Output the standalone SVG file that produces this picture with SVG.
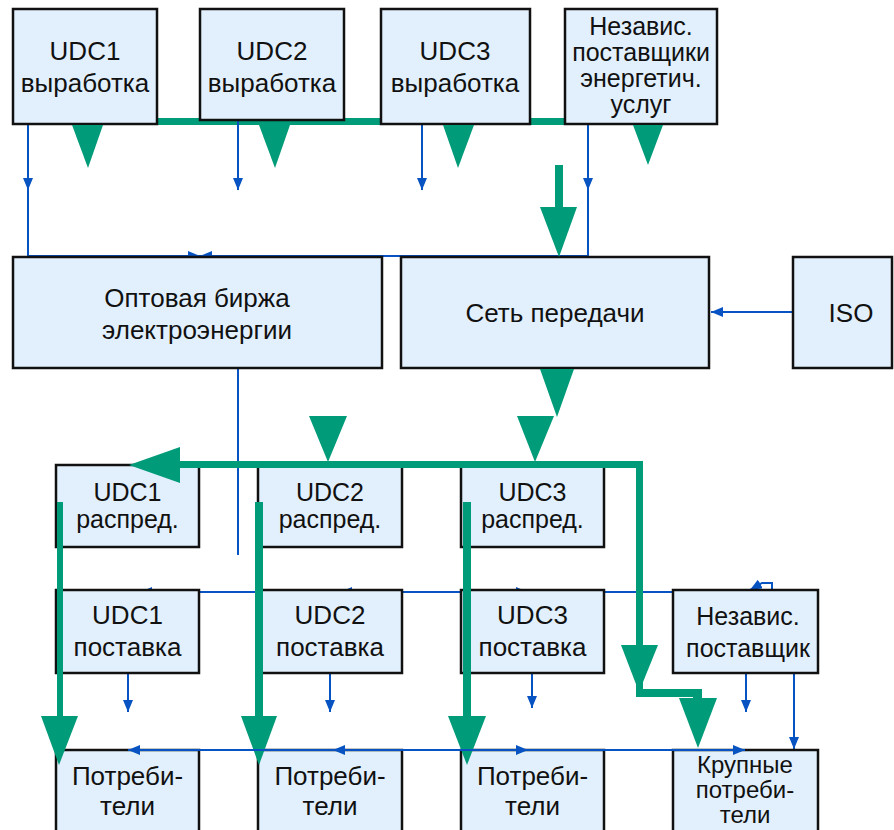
<svg xmlns="http://www.w3.org/2000/svg" width="894" height="830" viewBox="0 0 894 830">
  <defs>
    <marker id="blueHead" viewBox="0 0 12 10" refX="12" refY="5" markerWidth="12" markerHeight="10" markerUnits="userSpaceOnUse" orient="auto">
      <path d="M0,0 L12,5 L0,10 z" fill="#0753c2"/>
    </marker>
    <style>
      .box { fill: #e2f0fd; stroke: #111; stroke-width: 2.5; }
      .lbl { font-family: "Liberation Sans", Arial, sans-serif; font-size: 26px; fill: #111; text-anchor: middle; }
      .tight { font-size: 25px; }
      .tighter { font-size: 24px; }
      .thin { fill: none; stroke: #0753c2; stroke-width: 2; }
      .arr { marker-end: url(#blueHead); }
      .green { fill: #009b78; stroke: none; }
    </style>
  </defs>
  <rect width="894" height="830" fill="#fff"/>

  <!-- connectors drawn beneath the boxes -->
  <g id="connectors-under">
    <rect class="green" x="13" y="118" width="704" height="7"/>
    <path class="thin arr" d="M28,124 V190"/>
    <path class="thin arr" d="M28,188 V256 H200"/>
    <path class="thin arr" d="M238,120 V190"/>
    <path class="thin arr" d="M422,124 V190"/>
    <path class="thin arr" d="M588,124 V190"/>
    <path class="thin arr" d="M588,188 V256 H200"/>
    <path class="thin" d="M238,368 V555"/>
    <path class="thin arr" d="M793,312 H711"/>
    <path class="thin arr" d="M400,592 H340"/>
    <path class="thin arr" d="M340,592 H140"/>
    <path class="thin arr" d="M400,592 H528"/>
    <path class="thin arr" d="M528,592 H772 V583 H762 L750,590"/>
    <path class="thin arr" d="M128,673 V712"/>
    <path class="thin arr" d="M330,673 V712"/>
    <path class="thin arr" d="M532,673 V708"/>
    <path class="thin arr" d="M746,673 V712"/>
    <path class="thin arr" d="M794,673 V749"/>
  </g>

  <!-- generation row -->
  <g id="gen1">
    <rect class="box" x="13" y="9" width="144" height="115"/>
    <text class="lbl" x="85" y="60">UDC1</text>
    <text class="lbl" x="85" y="92">выработка</text>
  </g>
  <g id="gen2">
    <rect class="box" x="200" y="9" width="144" height="111"/>
    <text class="lbl" x="272" y="60">UDC2</text>
    <text class="lbl" x="272" y="92">выработка</text>
  </g>
  <g id="gen3">
    <rect class="box" x="381" y="9" width="149" height="115"/>
    <text class="lbl" x="455" y="60">UDC3</text>
    <text class="lbl" x="455" y="92">выработка</text>
  </g>
  <g id="ind-services">
    <rect class="box" x="565" y="9" width="152" height="115"/>
    <text class="lbl tight" x="641" y="35">Независ.</text>
    <text class="lbl tight" x="641" y="61">поставщики</text>
    <text class="lbl tight" x="641" y="87">энергетич.</text>
    <text class="lbl tight" x="641" y="113">услуг</text>
  </g>

  <!-- market / grid row -->
  <g id="exchange">
    <rect class="box" x="13" y="257" width="369" height="111"/>
    <text class="lbl" x="197" y="307">Оптовая биржа</text>
    <text class="lbl" x="197" y="339">электроэнергии</text>
  </g>
  <g id="grid">
    <rect class="box" x="401" y="257" width="308" height="111"/>
    <text class="lbl" x="555" y="322">Сеть передачи</text>
  </g>
  <g id="iso">
    <rect class="box" x="793" y="257" width="99" height="111"/>
    <text class="lbl" x="851" y="322">ISO</text>
  </g>

  <!-- distribution row -->
  <g id="dist1">
    <rect class="box" x="56" y="465" width="143" height="82"/>
    <text class="lbl tight" x="127.5" y="501">UDC1</text>
    <text class="lbl tight" x="127.5" y="528">распред.</text>
  </g>
  <g id="dist2">
    <rect class="box" x="258" y="465" width="144" height="82"/>
    <text class="lbl tight" x="330" y="501">UDC2</text>
    <text class="lbl tight" x="330" y="528">распред.</text>
  </g>
  <g id="dist3">
    <rect class="box" x="461" y="465" width="143" height="82"/>
    <text class="lbl tight" x="532.5" y="501">UDC3</text>
    <text class="lbl tight" x="532.5" y="528">распред.</text>
  </g>

  <!-- supply row -->
  <g id="supply1">
    <rect class="box" x="56" y="590" width="143" height="83"/>
    <text class="lbl" x="127.5" y="624">UDC1</text>
    <text class="lbl" x="127.5" y="656">поставка</text>
  </g>
  <g id="supply2">
    <rect class="box" x="258" y="590" width="144" height="83"/>
    <text class="lbl" x="330" y="624">UDC2</text>
    <text class="lbl" x="330" y="656">поставка</text>
  </g>
  <g id="supply3">
    <rect class="box" x="461" y="590" width="143" height="83"/>
    <text class="lbl" x="532.5" y="624">UDC3</text>
    <text class="lbl" x="532.5" y="656">поставка</text>
  </g>
  <g id="ind-supplier">
    <rect class="box" x="673" y="590" width="145" height="83"/>
    <text class="lbl tight" x="748" y="625">Независ.</text>
    <text class="lbl tight" x="748" y="657">поставщик</text>
  </g>

  <!-- consumer row -->
  <g id="cons1">
    <rect class="box" x="56" y="750" width="143" height="90"/>
    <text class="lbl" x="127.5" y="785">Потреби-</text>
    <text class="lbl" x="127.5" y="815">тели</text>
  </g>
  <g id="cons2">
    <rect class="box" x="258" y="750" width="144" height="90"/>
    <text class="lbl" x="330" y="785">Потреби-</text>
    <text class="lbl" x="330" y="815">тели</text>
  </g>
  <g id="cons3">
    <rect class="box" x="461" y="750" width="143" height="90"/>
    <text class="lbl" x="532.5" y="785">Потреби-</text>
    <text class="lbl" x="532.5" y="815">тели</text>
  </g>
  <g id="large-cons">
    <rect class="box" x="673" y="750" width="145" height="90"/>
    <text class="lbl tighter" x="745" y="773">Крупные</text>
    <text class="lbl tighter" x="745" y="798">потреби-</text>
    <text class="lbl tighter" x="745" y="823">тели</text>
  </g>

  <!-- connectors drawn over the boxes -->
  <g id="connectors-over">
    <!-- power flow from generation -->
    <polygon class="green" points="72,125 103,125 88,168"/>
    <polygon class="green" points="259,125 290,125 275,168"/>
    <polygon class="green" points="443,125 474,125 458,168"/>
    <polygon class="green" points="633,125 663,125 648,165"/>
    <rect class="green" x="555" y="165" width="8" height="43"/>
    <polygon class="green" points="540,207 577,207 559,257"/>
    <!-- grid to distribution -->
    <polygon class="green" points="540,369 574,369 557,417"/>
    <polygon class="green" points="517,416 554,416 535,462"/>
    <polygon class="green" points="309,416 347,416 328,462"/>
    <rect class="green" x="178" y="461" width="465" height="7"/>
    <polygon class="green" points="129,465 180,447 180,483"/>
    <rect class="green" x="636" y="461" width="7" height="236"/>
    <polygon class="green" points="621,645 658,645 639,692"/>
    <rect class="green" x="636" y="689" width="66" height="8"/>
    <rect class="green" x="693" y="689" width="9" height="11"/>
    <polygon class="green" points="679,698 717,698 698,748"/>
    <!-- distribution to consumers -->
    <rect class="green" x="57" y="502" width="6" height="215"/>
    <polygon class="green" points="41,716 78,716 59,765"/>
    <rect class="green" x="255" y="502" width="8" height="215"/>
    <polygon class="green" points="241,716 277,716 259,765"/>
    <rect class="green" x="463" y="502" width="8" height="215"/>
    <polygon class="green" points="448,716 486,716 467,765"/>
    <!-- supply contracts to consumers -->
    <path class="thin arr" d="M430,750 H333"/>
    <path class="thin arr" d="M333,750 H128"/>
    <path class="thin arr" d="M430,750 H528"/>
    <path class="thin arr" d="M528,750 H745"/>
  </g>
</svg>
